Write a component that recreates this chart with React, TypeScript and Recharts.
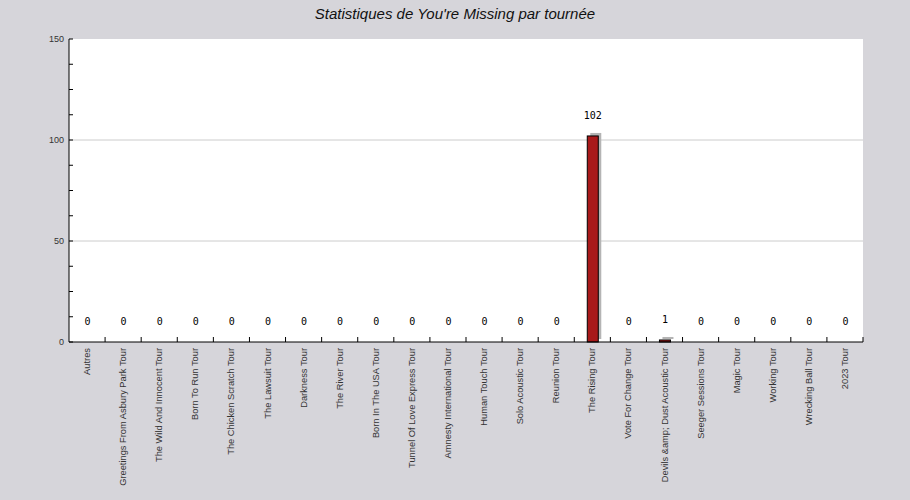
import React from 'react';
import {
  BarChart, Bar, XAxis, YAxis, CartesianGrid, LabelList,
} from 'recharts';

const tours = [
  'Autres',
  'Greetings From Asbury Park Tour',
  'The Wild And Innocent Tour',
  'Born To Run Tour',
  'The Chicken Scratch Tour',
  'The Lawsuit Tour',
  'Darkness Tour',
  'The River Tour',
  'Born In The USA Tour',
  'Tunnel Of Love Express Tour',
  'Amnesty International Tour',
  'Human Touch Tour',
  'Solo Acoustic Tour',
  'Reunion Tour',
  'The Rising Tour',
  'Vote For Change Tour',
  'Devils &amp; Dust Acoustic Tour',
  'Seeger Sessions Tour',
  'Magic Tour',
  'Working Tour',
  'Wrecking Ball Tour',
  '2023 Tour',
];

const plays = [0, 0, 0, 0, 0, 0, 0, 0, 0, 0, 0, 0, 0, 0, 102, 0, 1, 0, 0, 0, 0, 0];

const yTicks = [0, 12.5, 25, 37.5, 50, 62.5, 75, 87.5, 100, 112.5, 125, 137.5, 150];
const yLabels = [0, 50, 100, 150];
const gridValues = [50, 100];

const data = tours.map((name, i) => ({ name, value: plays[i] }));

const W = 910;
const H = 500;
const M = { top: 39, right: 47, left: 0, bottom: 0 };
const Y_W = 69;
const X_H = 158;
const halfBand = (W - M.right - Y_W) / tours.length / 2;

const YTick = (props: any) => {
  const { x, y, payload } = props;
  const v = payload.value;
  return (
    <g>
      <line x1={x} x2={x + 4} y1={y} y2={y} stroke="#000" />
      {yLabels.includes(v) && (
        <text x={x - 5} y={y + 3} textAnchor="end" fontSize={9} fill="#333"
          fontFamily="Liberation Sans, Arial, sans-serif">{v}</text>
      )}
    </g>
  );
};

const XTick = (props: any) => {
  const { x, y, payload } = props;
  return (
    <g>
      <line x1={x + halfBand} x2={x + halfBand} y1={y} y2={y - 5} stroke="#000" />
      <text transform={`translate(${x + 3},${y + 6}) rotate(-90)`} textAnchor="end"
        fontSize={9.3} fill="#333" fontFamily="Liberation Sans, Arial, sans-serif">
        {payload.value}
      </text>
    </g>
  );
};

const ShadowBar = (props: any) => {
  const { x, y, width, height } = props;
  if (!height || height <= 0) return null;
  return (
    <g>
      <rect x={x + 3} y={y - 3} width={width} height={height} fill="#b4b4b4" />
      <rect x={x} y={y} width={width} height={height} fill="#a8191a" stroke="#000" strokeWidth={1} />
    </g>
  );
};

const ValueLabel = (props: any) => {
  const { x, y, width, value } = props;
  return (
    <text x={x + width / 2} y={y - 17} textAnchor="middle" fontSize={10} fill="#000"
      fontFamily="DejaVu Sans Mono, monospace">{value}</text>
  );
};

export default function App() {
  return (
    <div style={{ position: 'fixed', left: 0, top: 0, width: W, height: H, background: '#d6d5da' }}>
      <div style={{
        position: 'absolute', top: 5, left: 0, width: W, textAlign: 'center',
        fontFamily: 'Liberation Sans, Arial, sans-serif', fontStyle: 'italic', fontSize: 15, color: '#111',
      }}>
        Statistiques de You're Missing par tournée
      </div>
      <BarChart width={W} height={H} data={data} margin={M} barSize={11}>
        <CartesianGrid vertical={false} horizontalValues={gridValues} stroke="#cccccc" fill="#fff" fillOpacity={1} />
        <XAxis dataKey="name" interval={0} height={X_H} tickSize={0} tickMargin={0}
          tick={<XTick />} axisLine={{ stroke: '#000' }} tickLine={false} />
        <YAxis domain={[0, 150]} ticks={yTicks} width={Y_W} tickSize={0} tickMargin={0}
          tick={<YTick />} axisLine={{ stroke: '#000' }} tickLine={false} interval={0} />
        <Bar dataKey="value" shape={<ShadowBar />} isAnimationActive={false}>
          <LabelList dataKey="value" content={<ValueLabel />} />
        </Bar>
      </BarChart>
    </div>
  );
}
